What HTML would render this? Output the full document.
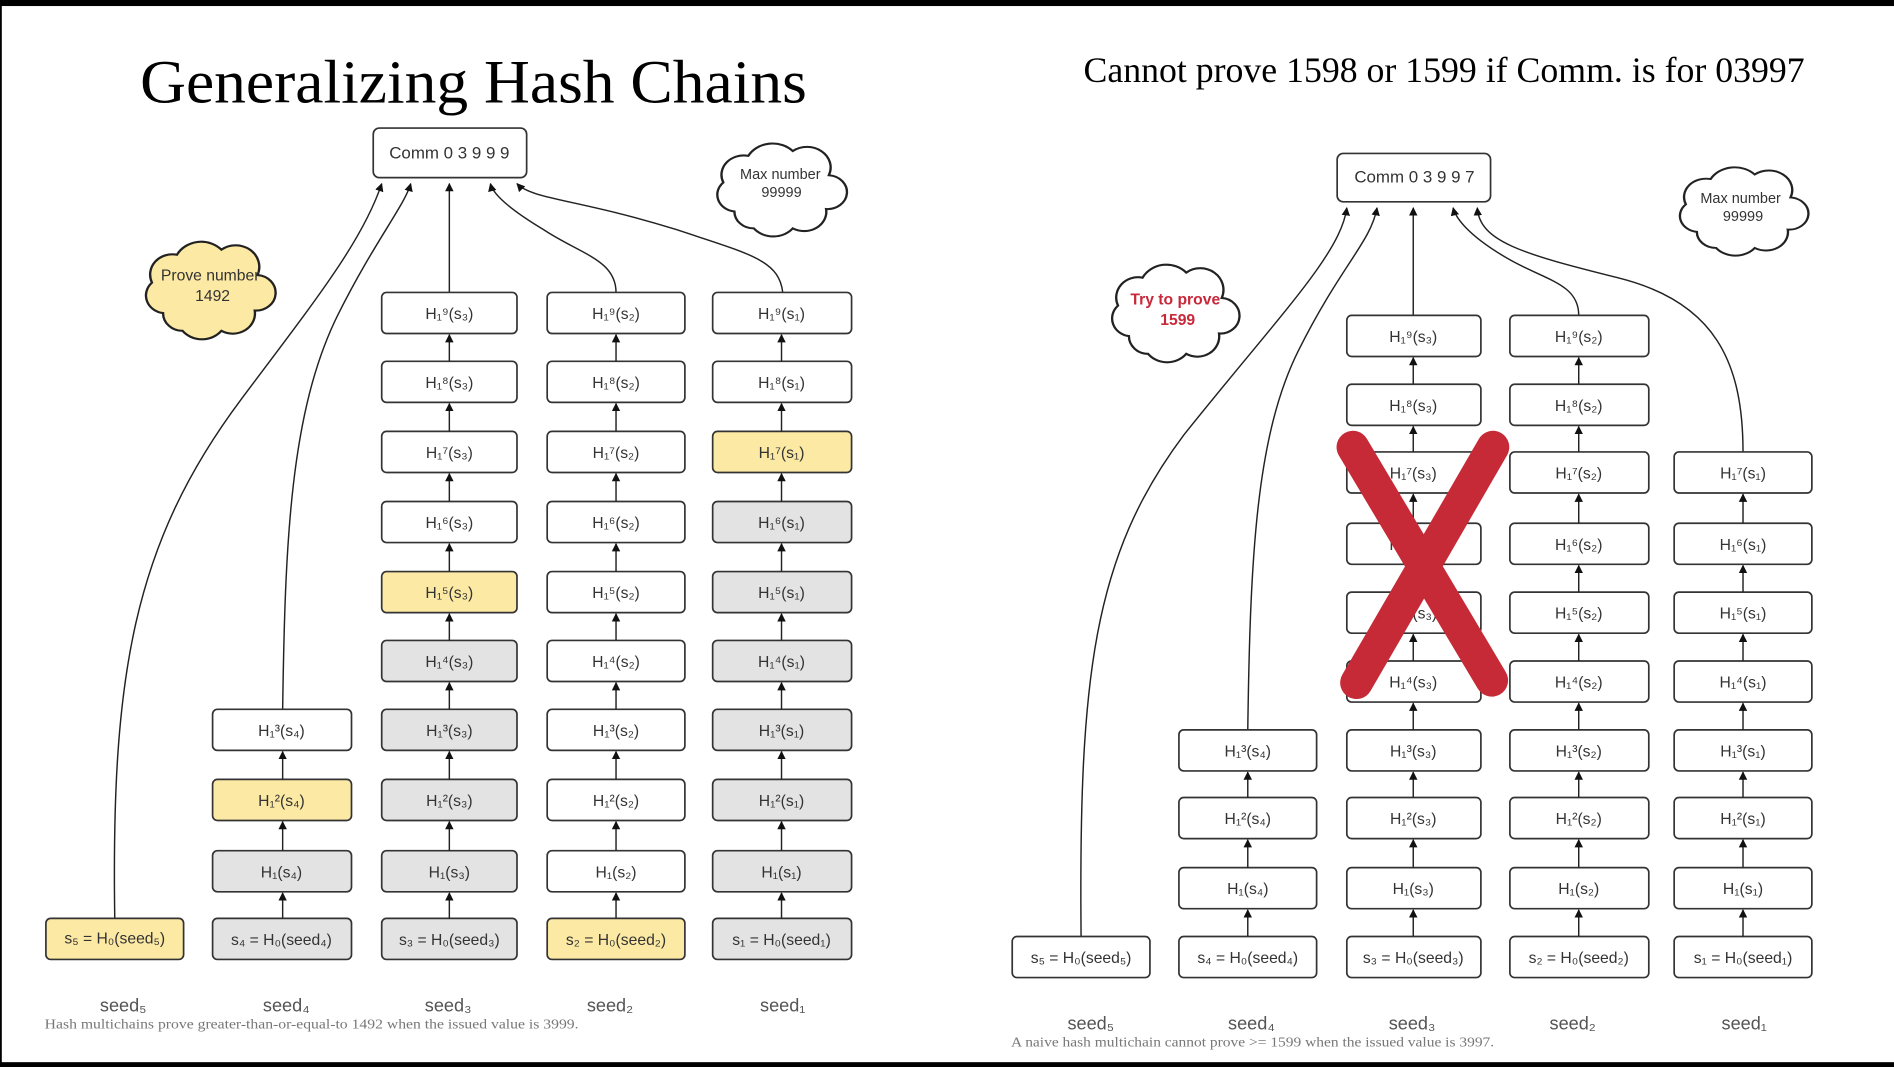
<!DOCTYPE html>
<html><head><meta charset="utf-8"><style>
html,body{margin:0;padding:0;background:#fff}
svg{display:block}
.b rect{stroke:#333;stroke-width:1.4}
.t{font-family:"Liberation Sans","DejaVu Sans",sans-serif;font-size:13px;fill:#333;text-anchor:middle}
.a{stroke:#222;stroke-width:1.2;fill:none;marker-end:url(#ar)}
.c{fill:none;stroke:#222;stroke-width:1.2;marker-end:url(#ar)}
.sd{font-family:"Liberation Sans","DejaVu Sans",sans-serif;font-size:15px;fill:#555;text-anchor:middle}
.cap{font-family:"Liberation Serif",serif;font-size:11.5px;fill:#777}
</style></head><body>
<svg width="1894" height="1067" viewBox="0 0 1568 883" preserveAspectRatio="none" xmlns="http://www.w3.org/2000/svg">
<defs>
<marker id="ar" viewBox="0 0 10 10" refX="9" refY="5" markerWidth="7" markerHeight="8" orient="auto" markerUnits="userSpaceOnUse"><path d="M0,0 L10,5 L0,10 z" fill="#111"/></marker>
<path id="cl" d="M20,62 A14,14 0 0,1 12,38 A16,16 0 0,1 30,16 A20,20 0 0,1 62,12 A17,17 0 0,1 88,32 A14,14 0 0,1 86,60 A16,16 0 0,1 62,76 A18,18 0 0,1 34,76 A14,14 0 0,1 20,62 Z"/>
</defs>
<rect x="0" y="0" width="1568" height="5" fill="#000"/>
<rect x="0" y="879" width="1568" height="4" fill="#000"/>
<rect x="0" y="0" width="1.5" height="883" fill="#000"/>

<text x="116" y="85" font-family="Liberation Serif,serif" font-size="51" fill="#000" textLength="552" lengthAdjust="spacingAndGlyphs">Generalizing Hash Chains</text>
<text x="897" y="68" font-family="Liberation Serif,serif" font-size="30" fill="#000" textLength="597" lengthAdjust="spacingAndGlyphs">Cannot prove 1598 or 1599 if Comm. is for 03997</text>

<!-- LEFT -->
<g class="b"><rect x="309" y="106" width="127" height="41" rx="5" fill="#fff"/></g>
<text class="t" x="372" y="131" style="font-size:14px">Comm 0 3 9 9 9</text>

<use href="#cl" transform="translate(112,194) scale(1.15,1.05)" fill="#fce9a4" stroke="#222" stroke-width="1.7"/>
<text class="t" x="174" y="232">Prove number</text><text class="t" x="176" y="249">1492</text>
<use href="#cl" transform="translate(585,113) scale(1.15,1.0)" fill="#fff" stroke="#222" stroke-width="1.7"/>
<text class="t" x="646" y="148" style="font-size:12px">Max number</text><text class="t" x="647" y="163" style="font-size:12px">99999</text>

<path class="c" d="M95,760 C92,560 110,450 200,330 C260,250 300,200 316,152"/>
<path class="c" d="M234,587 C236,450 240,340 280,260 C310,200 335,170 340,152"/>
<path class="c" d="M372,242 L372,152"/>
<path class="c" d="M510,242 C510,215 480,210 450,190 C420,172 408,160 406,152"/>
<path class="c" d="M648,242 C645,215 620,210 560,190 C480,165 440,165 428,152"/>

<g class="b"><rect x="38" y="760" width="114" height="34" rx="4" fill="#fce9a4"/></g><text class="t" x="95" y="781">s₅ = H₀(seed₅)</text>
<g class="b">
<rect x="176" y="587" width="115" height="34" rx="4" fill="#fff"/>
<rect x="176" y="645" width="115" height="34" rx="4" fill="#fce9a4"/>
<rect x="176" y="704" width="115" height="34" rx="4" fill="#e3e3e3"/>
<rect x="176" y="760" width="115" height="34" rx="4" fill="#e3e3e3"/>
</g>
<text class="t" x="233" y="609">H₁³(s₄)</text><text class="t" x="233" y="667">H₁²(s₄)</text><text class="t" x="233" y="726">H₁(s₄)</text><text class="t" x="233" y="782">s₄ = H₀(seed₄)</text>
<line class="a" x1="234" y1="645" x2="234" y2="622"/><line class="a" x1="234" y1="704" x2="234" y2="680"/><line class="a" x1="234" y1="760" x2="234" y2="739"/>
<g class="b">
<rect x="316" y="242" width="112" height="34" rx="4" fill="#fff"/>
<rect x="316" y="299" width="112" height="34" rx="4" fill="#fff"/>
<rect x="316" y="357" width="112" height="34" rx="4" fill="#fff"/>
<rect x="316" y="415" width="112" height="34" rx="4" fill="#fff"/>
<rect x="316" y="473" width="112" height="34" rx="4" fill="#fce9a4"/>
<rect x="316" y="530" width="112" height="34" rx="4" fill="#e3e3e3"/>
<rect x="316" y="587" width="112" height="34" rx="4" fill="#e3e3e3"/>
<rect x="316" y="645" width="112" height="34" rx="4" fill="#e3e3e3"/>
<rect x="316" y="704" width="112" height="34" rx="4" fill="#e3e3e3"/>
<rect x="316" y="760" width="112" height="34" rx="4" fill="#e3e3e3"/>
</g>
<text class="t" x="372" y="264">H₁⁹(s₃)</text><text class="t" x="372" y="321">H₁⁸(s₃)</text><text class="t" x="372" y="379">H₁⁷(s₃)</text><text class="t" x="372" y="437">H₁⁶(s₃)</text><text class="t" x="372" y="495">H₁⁵(s₃)</text><text class="t" x="372" y="552">H₁⁴(s₃)</text><text class="t" x="372" y="609">H₁³(s₃)</text><text class="t" x="372" y="667">H₁²(s₃)</text><text class="t" x="372" y="726">H₁(s₃)</text><text class="t" x="372" y="782">s₃ = H₀(seed₃)</text>
<g class="b">
<rect x="453" y="242" width="114" height="34" rx="4" fill="#fff"/>
<rect x="453" y="299" width="114" height="34" rx="4" fill="#fff"/>
<rect x="453" y="357" width="114" height="34" rx="4" fill="#fff"/>
<rect x="453" y="415" width="114" height="34" rx="4" fill="#fff"/>
<rect x="453" y="473" width="114" height="34" rx="4" fill="#fff"/>
<rect x="453" y="530" width="114" height="34" rx="4" fill="#fff"/>
<rect x="453" y="587" width="114" height="34" rx="4" fill="#fff"/>
<rect x="453" y="645" width="114" height="34" rx="4" fill="#fff"/>
<rect x="453" y="704" width="114" height="34" rx="4" fill="#fff"/>
<rect x="453" y="760" width="114" height="34" rx="4" fill="#fce9a4"/>
</g>
<text class="t" x="510" y="264">H₁⁹(s₂)</text><text class="t" x="510" y="321">H₁⁸(s₂)</text><text class="t" x="510" y="379">H₁⁷(s₂)</text><text class="t" x="510" y="437">H₁⁶(s₂)</text><text class="t" x="510" y="495">H₁⁵(s₂)</text><text class="t" x="510" y="552">H₁⁴(s₂)</text><text class="t" x="510" y="609">H₁³(s₂)</text><text class="t" x="510" y="667">H₁²(s₂)</text><text class="t" x="510" y="726">H₁(s₂)</text><text class="t" x="510" y="782">s₂ = H₀(seed₂)</text>
<g class="b">
<rect x="590" y="242" width="115" height="34" rx="4" fill="#fff"/>
<rect x="590" y="299" width="115" height="34" rx="4" fill="#fff"/>
<rect x="590" y="357" width="115" height="34" rx="4" fill="#fce9a4"/>
<rect x="590" y="415" width="115" height="34" rx="4" fill="#e3e3e3"/>
<rect x="590" y="473" width="115" height="34" rx="4" fill="#e3e3e3"/>
<rect x="590" y="530" width="115" height="34" rx="4" fill="#e3e3e3"/>
<rect x="590" y="587" width="115" height="34" rx="4" fill="#e3e3e3"/>
<rect x="590" y="645" width="115" height="34" rx="4" fill="#e3e3e3"/>
<rect x="590" y="704" width="115" height="34" rx="4" fill="#e3e3e3"/>
<rect x="590" y="760" width="115" height="34" rx="4" fill="#e3e3e3"/>
</g>
<text class="t" x="647" y="264">H₁⁹(s₁)</text><text class="t" x="647" y="321">H₁⁸(s₁)</text><text class="t" x="647" y="379">H₁⁷(s₁)</text><text class="t" x="647" y="437">H₁⁶(s₁)</text><text class="t" x="647" y="495">H₁⁵(s₁)</text><text class="t" x="647" y="552">H₁⁴(s₁)</text><text class="t" x="647" y="609">H₁³(s₁)</text><text class="t" x="647" y="667">H₁²(s₁)</text><text class="t" x="647" y="726">H₁(s₁)</text><text class="t" x="647" y="782">s₁ = H₀(seed₁)</text>
<g>
<line class="a" x1="372" y1="299" x2="372" y2="277"/><line class="a" x1="372" y1="357" x2="372" y2="334"/><line class="a" x1="372" y1="415" x2="372" y2="392"/><line class="a" x1="372" y1="473" x2="372" y2="450"/><line class="a" x1="372" y1="530" x2="372" y2="508"/><line class="a" x1="372" y1="587" x2="372" y2="565"/><line class="a" x1="372" y1="645" x2="372" y2="622"/><line class="a" x1="372" y1="704" x2="372" y2="680"/><line class="a" x1="372" y1="760" x2="372" y2="739"/>
<line class="a" x1="510" y1="299" x2="510" y2="277"/><line class="a" x1="510" y1="357" x2="510" y2="334"/><line class="a" x1="510" y1="415" x2="510" y2="392"/><line class="a" x1="510" y1="473" x2="510" y2="450"/><line class="a" x1="510" y1="530" x2="510" y2="508"/><line class="a" x1="510" y1="587" x2="510" y2="565"/><line class="a" x1="510" y1="645" x2="510" y2="622"/><line class="a" x1="510" y1="704" x2="510" y2="680"/><line class="a" x1="510" y1="760" x2="510" y2="739"/>
<line class="a" x1="647" y1="299" x2="647" y2="277"/><line class="a" x1="647" y1="357" x2="647" y2="334"/><line class="a" x1="647" y1="415" x2="647" y2="392"/><line class="a" x1="647" y1="473" x2="647" y2="450"/><line class="a" x1="647" y1="530" x2="647" y2="508"/><line class="a" x1="647" y1="587" x2="647" y2="565"/><line class="a" x1="647" y1="645" x2="647" y2="622"/><line class="a" x1="647" y1="704" x2="647" y2="680"/><line class="a" x1="647" y1="760" x2="647" y2="739"/>
</g>
<text class="sd" x="102" y="837">seed₅</text><text class="sd" x="237" y="837">seed₄</text><text class="sd" x="371" y="837">seed₃</text><text class="sd" x="505" y="837">seed₂</text><text class="sd" x="648" y="837">seed₁</text>
<text class="cap" x="37" y="851" textLength="442" lengthAdjust="spacingAndGlyphs">Hash multichains prove greater-than-or-equal-to 1492 when the issued value is 3999.</text>

<!-- RIGHT -->
<g class="b"><rect x="1107" y="127" width="127" height="40" rx="5" fill="#fff"/></g>
<text class="t" x="1171" y="151" style="font-size:14px">Comm 0 3 9 9 7</text>
<use href="#cl" transform="translate(912,213) scale(1.13,1.05)" fill="#fff" stroke="#222" stroke-width="1.7"/>
<text class="t" x="973" y="252" style="fill:#c8283a;font-weight:bold">Try to prove</text><text class="t" x="975" y="269" style="fill:#c8283a;font-weight:bold">1599</text>
<use href="#cl" transform="translate(1382,133) scale(1.14,0.95)" fill="#fff" stroke="#222" stroke-width="1.7"/>
<text class="t" x="1441" y="168" style="font-size:12px">Max number</text><text class="t" x="1443" y="183" style="font-size:12px">99999</text>

<path class="c" d="M895,775 C893,560 905,460 980,360 C1060,260 1110,210 1115,172"/>
<path class="c" d="M1033,604 C1035,460 1040,360 1075,290 C1110,220 1135,200 1140,172"/>
<path class="c" d="M1170,261 L1170,172"/>
<path class="c" d="M1307,261 C1307,235 1280,232 1250,215 C1215,195 1205,180 1203,172"/>
<path class="c" d="M1443,374 C1443,300 1420,250 1340,230 C1260,210 1225,200 1223,172"/>

<g class="b" fill="#fff">
<rect x="838" y="775" width="114" height="34" rx="4"/>
<rect x="976" y="604" width="114" height="34" rx="4"/><rect x="976" y="660" width="114" height="34" rx="4"/><rect x="976" y="718" width="114" height="34" rx="4"/><rect x="976" y="775" width="114" height="34" rx="4"/>
<rect x="1115" y="261" width="111" height="34" rx="4"/><rect x="1115" y="318" width="111" height="34" rx="4"/><rect x="1115" y="374" width="111" height="34" rx="4"/><rect x="1115" y="433" width="111" height="34" rx="4"/><rect x="1115" y="490" width="111" height="34" rx="4"/><rect x="1115" y="547" width="111" height="34" rx="4"/><rect x="1115" y="604" width="111" height="34" rx="4"/><rect x="1115" y="660" width="111" height="34" rx="4"/><rect x="1115" y="718" width="111" height="34" rx="4"/><rect x="1115" y="775" width="111" height="34" rx="4"/>
<rect x="1250" y="261" width="115" height="34" rx="4"/><rect x="1250" y="318" width="115" height="34" rx="4"/><rect x="1250" y="374" width="115" height="34" rx="4"/><rect x="1250" y="433" width="115" height="34" rx="4"/><rect x="1250" y="490" width="115" height="34" rx="4"/><rect x="1250" y="547" width="115" height="34" rx="4"/><rect x="1250" y="604" width="115" height="34" rx="4"/><rect x="1250" y="660" width="115" height="34" rx="4"/><rect x="1250" y="718" width="115" height="34" rx="4"/><rect x="1250" y="775" width="115" height="34" rx="4"/>
<rect x="1386" y="374" width="114" height="34" rx="4"/><rect x="1386" y="433" width="114" height="34" rx="4"/><rect x="1386" y="490" width="114" height="34" rx="4"/><rect x="1386" y="547" width="114" height="34" rx="4"/><rect x="1386" y="604" width="114" height="34" rx="4"/><rect x="1386" y="660" width="114" height="34" rx="4"/><rect x="1386" y="718" width="114" height="34" rx="4"/><rect x="1386" y="775" width="114" height="34" rx="4"/>
</g>
<text class="t" x="895" y="797">s₅ = H₀(seed₅)</text>
<text class="t" x="1033" y="626">H₁³(s₄)</text><text class="t" x="1033" y="682">H₁²(s₄)</text><text class="t" x="1033" y="740">H₁(s₄)</text><text class="t" x="1033" y="797">s₄ = H₀(seed₄)</text>
<text class="t" x="1170" y="283">H₁⁹(s₃)</text><text class="t" x="1170" y="340">H₁⁸(s₃)</text><text class="t" x="1170" y="396">H₁⁷(s₃)</text><text class="t" x="1170" y="455">H₁⁶(s₃)</text><text class="t" x="1170" y="512">H₁⁵(s₃)</text><text class="t" x="1170" y="569">H₁⁴(s₃)</text><text class="t" x="1170" y="626">H₁³(s₃)</text><text class="t" x="1170" y="682">H₁²(s₃)</text><text class="t" x="1170" y="740">H₁(s₃)</text><text class="t" x="1170" y="797">s₃ = H₀(seed₃)</text>
<text class="t" x="1307" y="283">H₁⁹(s₂)</text><text class="t" x="1307" y="340">H₁⁸(s₂)</text><text class="t" x="1307" y="396">H₁⁷(s₂)</text><text class="t" x="1307" y="455">H₁⁶(s₂)</text><text class="t" x="1307" y="512">H₁⁵(s₂)</text><text class="t" x="1307" y="569">H₁⁴(s₂)</text><text class="t" x="1307" y="626">H₁³(s₂)</text><text class="t" x="1307" y="682">H₁²(s₂)</text><text class="t" x="1307" y="740">H₁(s₂)</text><text class="t" x="1307" y="797">s₂ = H₀(seed₂)</text>
<text class="t" x="1443" y="396">H₁⁷(s₁)</text><text class="t" x="1443" y="455">H₁⁶(s₁)</text><text class="t" x="1443" y="512">H₁⁵(s₁)</text><text class="t" x="1443" y="569">H₁⁴(s₁)</text><text class="t" x="1443" y="626">H₁³(s₁)</text><text class="t" x="1443" y="682">H₁²(s₁)</text><text class="t" x="1443" y="740">H₁(s₁)</text><text class="t" x="1443" y="797">s₁ = H₀(seed₁)</text>
<g>
<line class="a" x1="1033" y1="660" x2="1033" y2="639"/><line class="a" x1="1033" y1="718" x2="1033" y2="695"/><line class="a" x1="1033" y1="775" x2="1033" y2="753"/>
<line class="a" x1="1170" y1="318" x2="1170" y2="296"/><line class="a" x1="1170" y1="374" x2="1170" y2="353"/><line class="a" x1="1170" y1="433" x2="1170" y2="409"/><line class="a" x1="1170" y1="490" x2="1170" y2="468"/><line class="a" x1="1170" y1="547" x2="1170" y2="525"/><line class="a" x1="1170" y1="604" x2="1170" y2="582"/><line class="a" x1="1170" y1="660" x2="1170" y2="639"/><line class="a" x1="1170" y1="718" x2="1170" y2="695"/><line class="a" x1="1170" y1="775" x2="1170" y2="753"/>
<line class="a" x1="1307" y1="318" x2="1307" y2="296"/><line class="a" x1="1307" y1="374" x2="1307" y2="353"/><line class="a" x1="1307" y1="433" x2="1307" y2="409"/><line class="a" x1="1307" y1="490" x2="1307" y2="468"/><line class="a" x1="1307" y1="547" x2="1307" y2="525"/><line class="a" x1="1307" y1="604" x2="1307" y2="582"/><line class="a" x1="1307" y1="660" x2="1307" y2="639"/><line class="a" x1="1307" y1="718" x2="1307" y2="695"/><line class="a" x1="1307" y1="775" x2="1307" y2="753"/>
<line class="a" x1="1443" y1="433" x2="1443" y2="409"/><line class="a" x1="1443" y1="490" x2="1443" y2="468"/><line class="a" x1="1443" y1="547" x2="1443" y2="525"/><line class="a" x1="1443" y1="604" x2="1443" y2="582"/><line class="a" x1="1443" y1="660" x2="1443" y2="639"/><line class="a" x1="1443" y1="718" x2="1443" y2="695"/><line class="a" x1="1443" y1="775" x2="1443" y2="753"/>
</g>
<g stroke="#c62a37" stroke-width="27" stroke-linecap="round" fill="none">
<line x1="1120" y1="370" x2="1235" y2="563"/>
<line x1="1236" y1="370" x2="1123" y2="565"/>
</g>
<text class="sd" x="903" y="852">seed₅</text><text class="sd" x="1036" y="852">seed₄</text><text class="sd" x="1169" y="852">seed₃</text><text class="sd" x="1302" y="852">seed₂</text><text class="sd" x="1444" y="852">seed₁</text>
<text class="cap" x="837" y="866" textLength="400" lengthAdjust="spacingAndGlyphs">A naive hash multichain cannot prove &gt;= 1599 when the issued value is 3997.</text>
</svg>
</body></html>
